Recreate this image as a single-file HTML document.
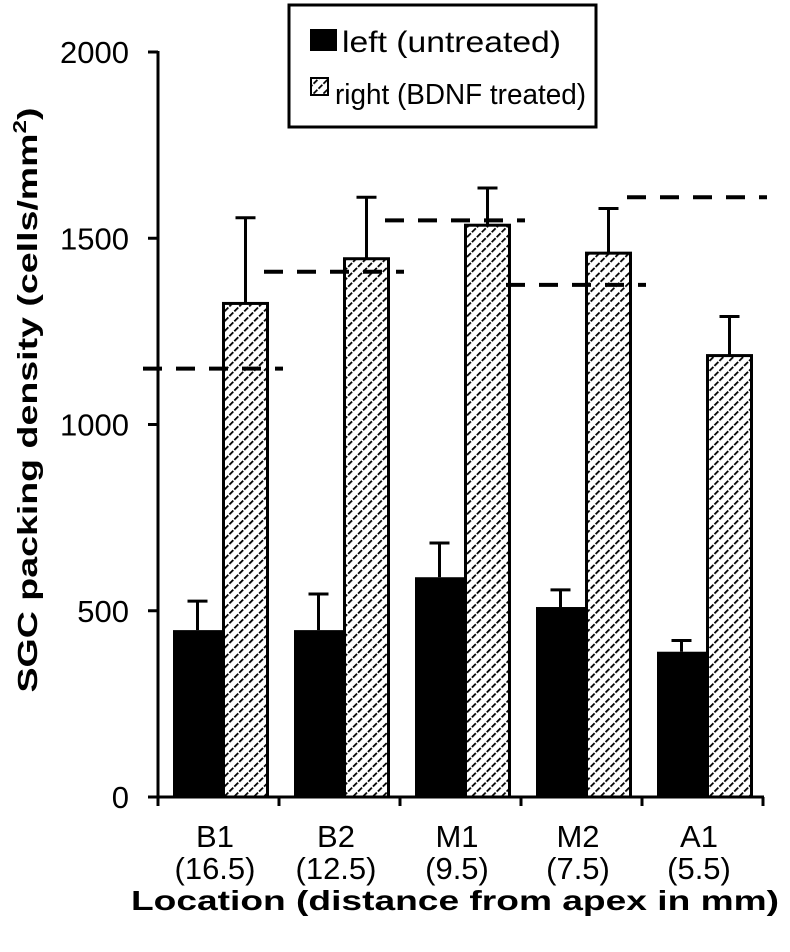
<!DOCTYPE html>
<html><head><meta charset="utf-8"><style>
html,body{margin:0;padding:0;background:#fff;}
svg{display:block;font-family:"Liberation Sans",Arial,sans-serif;}
</style></head><body>
<svg id="chart" width="790" height="952" viewBox="0 0 790 952">
<defs>
<pattern id="hatch" patternUnits="userSpaceOnUse" width="7" height="7" patternTransform="rotate(45)">
<rect width="7" height="7" fill="#fff"/>
<line x1="0" y1="0" x2="0" y2="7" stroke="#000" stroke-width="3.6" stroke-dasharray="5.5 1.5"/>
</pattern>
</defs>
<g id="plot"></g>
<text transform="translate(37,400) rotate(-90)" text-anchor="middle" font-weight="bold" font-size="28" textLength="585" lengthAdjust="spacingAndGlyphs">SGC packing density (cells/mm<tspan dy="-11" font-size="18">2</tspan><tspan dy="11">)</tspan></text>
<text x="455" y="910" text-anchor="middle" font-weight="bold" font-size="28" textLength="648" lengthAdjust="spacingAndGlyphs">Location (distance from apex in mm)</text>
<g>
<rect x="289" y="5" width="307" height="122" fill="#fff" stroke="#000" stroke-width="3"/>
<rect x="310" y="29" width="27" height="22" fill="#000"/>
<text x="342" y="52" font-size="30" textLength="219" lengthAdjust="spacingAndGlyphs">left (untreated)</text>
<rect x="311" y="78" width="17" height="17" fill="url(#hatch)" stroke="#000" stroke-width="2"/>
<text x="335" y="104" font-size="29" textLength="251" lengthAdjust="spacingAndGlyphs">right (BDNF treated)</text>
</g>
</svg>
<script>
const categories = ["B1","B2","M1","M2","A1"];
const distances = ["(16.5)","(12.5)","(9.5)","(7.5)","(5.5)"];
const leftValues = [448, 448, 590, 510, 390];
const leftErrTop = [526, 545, 682, 556, 420];
const rightValues = [1325, 1445, 1535, 1460, 1185];
const rightErrTop = [1555, 1610, 1635, 1580, 1290];
const normalValues = [1150, 1410, 1548, 1375, 1610];
const yTicks = [0, 500, 1000, 1500, 2000];

const NS = "http://www.w3.org/2000/svg";
const g = document.getElementById("plot");
const x0 = 158, step = 121, y0 = 797, yScale = 745/2000;
const y = v => y0 - v*yScale;
const gx = i => x0 + i*step;
function mk(tag, attrs){const e=document.createElementNS(NS,tag);for(const k in attrs)e.setAttribute(k,attrs[k]);g.appendChild(e);return e;}

let ax = mk("line",{x1:x0,y1:y(2000)-1,x2:x0,y2:y0+2,stroke:"#000","stroke-width":3});


let bx = mk("line",{x1:148,y1:y0,x2:gx(5)+1,y2:y0,stroke:"#000","stroke-width":3});


yTicks.forEach(t=>{
  const l = mk("line",{x1:148,y1:y(t),x2:x0,y2:y(t),stroke:"#000","stroke-width":3});
  
  
  const tx = mk("text",{x:129,y:y(t)+11,"text-anchor":"end","font-size":31});
  tx.textContent = String(t);
  
  
});
for(let i=0;i<=categories.length;i++){
  const l = mk("line",{x1:gx(i),y1:y0,x2:gx(i),y2:y0+9,stroke:"#000","stroke-width":3});
  
  
}
categories.forEach((c,i)=>{
  const bl = gx(i)+15, bw = 49, hw = 47;
  const b1 = mk("rect",{x:bl,y:y(leftValues[i]),width:bw,height:y0-y(leftValues[i]),fill:"#000"});
  
  
  const hx = bl+bw;
  const b2 = mk("rect",{x:hx+1.5,y:y(rightValues[i]),width:hw-3,height:y0-y(rightValues[i]),fill:"url(#hatch)",stroke:"#000","stroke-width":3});
  
  
  [[bl+bw/2,leftValues[i],leftErrTop[i],'left'],[hx+hw/2,rightValues[i],rightErrTop[i],'right']].forEach(([cx,v,e,s])=>{
    const st = mk("line",{x1:cx,y1:y(v),x2:cx,y2:y(e),stroke:"#000","stroke-width":3});
    
    
    const cp = mk("line",{x1:cx-10,y1:y(e),x2:cx+10,y2:y(e),stroke:"#000","stroke-width":3});
    
    
  });
  const cx = gx(i)+55;
  const d = mk("line",{x1:cx-70,y1:y(normalValues[i]),x2:cx+70,y2:y(normalValues[i]),stroke:"#000","stroke-width":4,"stroke-dasharray":"19 14"});
  
  
  const t1 = mk("text",{x:gx(i)+57,y:847,"text-anchor":"middle","font-size":31});
  t1.textContent = c;
  
  
  const t2 = mk("text",{x:gx(i)+57,y:879,"text-anchor":"middle","font-size":31});
  t2.textContent = distances[i];
  
  
});
</script>
</body></html>
